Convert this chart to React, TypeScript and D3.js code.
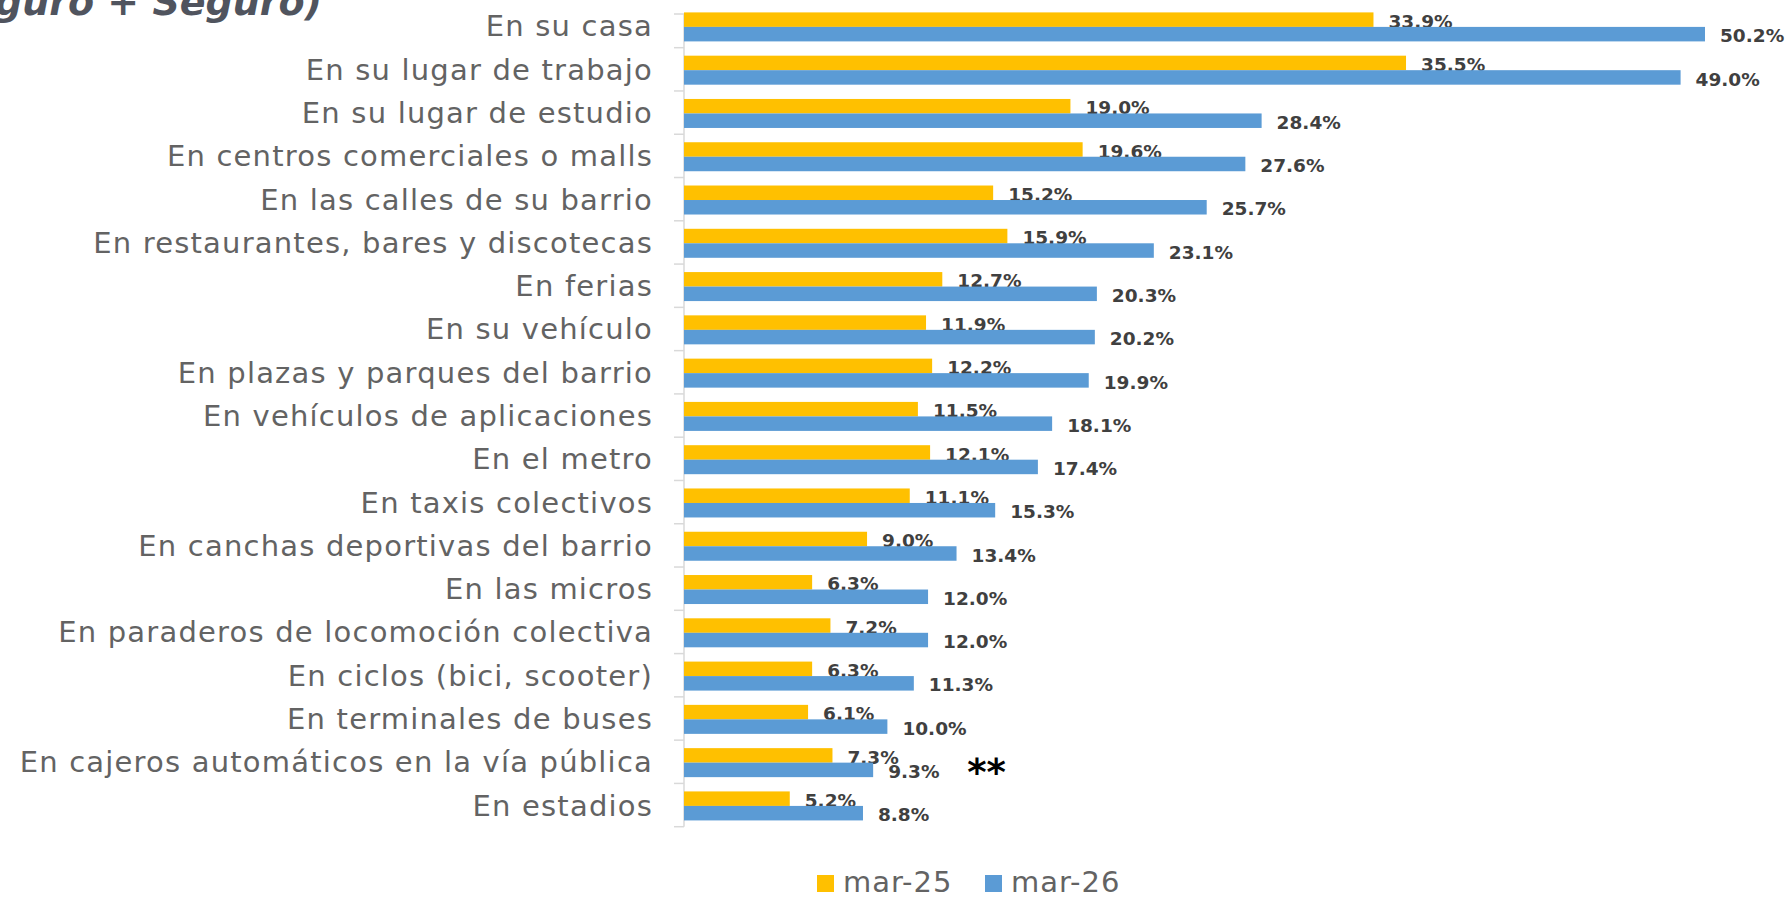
import React from "react";
import * as d3 from "d3";

// Chart data
const categories = [
  "En su casa",
  "En su lugar de trabajo",
  "En su lugar de estudio",
  "En centros comerciales o malls",
  "En las calles de su barrio",
  "En restaurantes, bares y discotecas",
  "En ferias",
  "En su vehículo",
  "En plazas y parques del barrio",
  "En vehículos de aplicaciones",
  "En el metro",
  "En taxis colectivos",
  "En canchas deportivas del barrio",
  "En las micros",
  "En paraderos de locomoción colectiva",
  "En ciclos (bici, scooter)",
  "En terminales de buses",
  "En cajeros automáticos en la vía pública",
  "En estadios",
];
const mar25 = [33.9, 35.5, 19.0, 19.6, 15.2, 15.9, 12.7, 11.9, 12.2, 11.5, 12.1, 11.1, 9.0, 6.3, 7.2, 6.3, 6.1, 7.3, 5.2];
const mar26 = [50.2, 49.0, 28.4, 27.6, 25.7, 23.1, 20.3, 20.2, 19.9, 18.1, 17.4, 15.3, 13.4, 12.0, 12.0, 11.3, 10.0, 9.3, 8.8];
const seriesNames = ["mar-25", "mar-26"];
const seriesColors = ["#FFC000", "#5B9BD5"];
const titleText = "(Muy seguro + Seguro)";
const flagged = "En cajeros automáticos en la vía pública";

const W = 1790;
const H = 897;

const App = () => {
  const x = d3.scaleLinear().domain([0, 50.2]).range([684, 1705]);
  const y = d3.scaleBand().domain(categories).range([4.4, 826.7]).padding(0);
  const sub = d3.scaleBand().domain(seriesNames).range([8, 37]).padding(0);
  const values = [mar25, mar26];

  const font = "'DejaVu Sans', 'Open Sans', sans-serif";
  const boundaries = categories.map((c) => y(c)).slice(1).concat([y.range()[1]]);

  return (
    <svg width={W} height={H} style={{ position: "absolute", left: 0, top: 0 }}>
      <rect width={W} height={H} fill="#ffffff" />

      {/* cut-off title */}
      <text x={322} y={15} textAnchor="end" fontFamily={font} fontWeight={700} fontStyle="italic" fontSize={38} fill="#50545e">
        {titleText}
      </text>

      {/* category axis */}
      <line x1={x(0)} x2={x(0)} y1={14} y2={y.range()[1]} stroke="#d9d9d9" strokeWidth={1.5} />
      {boundaries.map((b, i) => (
        <line key={i} x1={x(0) - 10} x2={x(0)} y1={b} y2={b} stroke="#d9d9d9" strokeWidth={1.5} />
      ))}
      <line x1={x(0) - 10} x2={x(0)} y1={14} y2={14} stroke="#d9d9d9" strokeWidth={1.5} />

      {categories.map((c) => (
        <text key={c} x={653} y={(y(c) as number) + y.bandwidth() / 2} dy="0.36em" textAnchor="end" fontFamily={font} fontWeight={400} fontSize={29} letterSpacing={1.2} fill="#636363">
          {c}
        </text>
      ))}

      {/* bars and labels */}
      {seriesNames.map((s, si) =>
        categories.map((c, i) => {
          const v = values[si][i];
          const y0 = (y(c) as number) + (sub(s) as number);
          return (
            <g key={s + c}>
              <rect x={x(0)} y={y0} width={x(v) - x(0)} height={sub.bandwidth()} fill={seriesColors[si]} />
              <text x={x(v) + 15} y={y0 + sub.bandwidth() / 2 + 1.5} dy="0.36em" fontFamily={font} fontWeight={700} fontSize={18.5} fill="#404040">
                {v.toFixed(1) + "%"}
              </text>
            </g>
          );
        })
      )}

      {/* significance marker */}
      <text
        x={x(mar26[categories.indexOf(flagged)]) + 94}
        y={(y(flagged) as number) + y.bandwidth() / 2 + 23}
        fontFamily={font}
        fontWeight={700}
        fontSize={37}
        fill="#000000"
      >
        **
      </text>

      {/* legend */}
      {seriesNames.map((s, si) => (
        <g key={s} transform={`translate(${817 + si * 168},875)`}>
          <rect width={17} height={17} fill={seriesColors[si]} />
          <text x={26} y={17} fontFamily={font} fontWeight={400} fontSize={29} letterSpacing={1} fill="#636363">
            {s}
          </text>
        </g>
      ))}
    </svg>
  );
};

export default App;
